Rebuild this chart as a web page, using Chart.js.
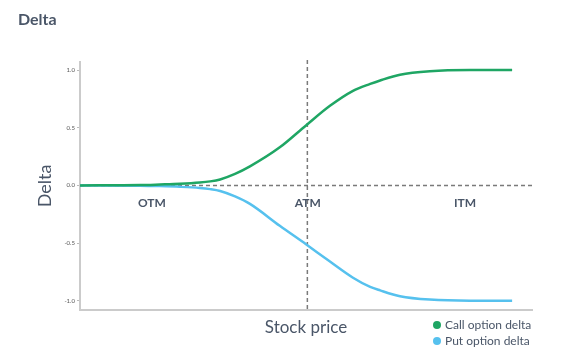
<!DOCTYPE html>
<html>
<head>
<meta charset="utf-8">
<script src="https://cdn.jsdelivr.net/npm/chart.js@4/dist/chart.umd.min.js"></script>
<style>
  html, body { margin: 0; padding: 0; background: #fff; }
  #wrap { width: 567px; height: 354px; }
</style>
</head>
<body>
<div id="wrap"><canvas id="deltaChart" width="567" height="354"></canvas></div>
<script>
// stock price (arbitrary units, 0..100) and delta values
const stockPrice = [0, 13.3, 17.7, 22.1, 26.5, 28.8, 31, 34.3, 37.6, 44.2, 50, 55.3, 60.4, 64.2, 66.4, 70.8, 77.4, 86.3, 95.6]
const callDelta = [0, 0.003, 0.008, 0.014, 0.025, 0.035, 0.052, 0.1, 0.165, 0.33, 0.52, 0.69, 0.82, 0.88, 0.91, 0.96, 0.99, 1.0, 1.0]
const putDelta = [0, -0.002, -0.006, -0.012, -0.022, -0.032, -0.048, -0.095, -0.16, -0.35, -0.51, -0.66, -0.80, -0.88, -0.91, -0.96, -0.99, -1.0, -1.0]
const yTicks = [-1, -0.5, 0, 0.5, 1]
const zones = ['OTM', 'ATM', 'ITM']
const zonePositions = [15.9, 50.4, 85.2]
const strike = 50.3

const textColor = '#4a5668'
const font = 'Lato, "Open Sans", sans-serif'

const toPoints = (ys) => ys.map((y, i) => ({ x: stockPrice[i], y: y }))

const extras = {
  id: 'extras',
  beforeDatasetsDraw(chart) {
    const { ctx, chartArea, scales } = chart
    const x0 = scales.x.getPixelForValue(strike)
    const y0 = scales.y.getPixelForValue(0)
    ctx.save()
    ctx.strokeStyle = '#7a7a7a'
    ctx.lineWidth = 1.5
    ctx.setLineDash([4, 3])
    ctx.beginPath()
    ctx.moveTo(chartArea.left, y0)
    ctx.lineTo(chartArea.right, y0)
    ctx.moveTo(x0, chartArea.top - 2)
    ctx.lineTo(x0, chartArea.bottom)
    ctx.stroke()
    ctx.restore()
  },
  afterDraw(chart) {
    const { ctx, scales } = chart
    ctx.save()
    // title
    ctx.fillStyle = textColor
    ctx.font = `bold 16px ${font}`
    ctx.textBaseline = 'middle'
    ctx.textAlign = 'left'
    ctx.fillText('Delta', 18, 20)

    // zone labels
    ctx.font = `bold 12px ${font}`
    ctx.textAlign = 'center'
    const zy = scales.y.getPixelForValue(-0.155)
    zones.forEach((z, i) => {
      ctx.fillText(z, scales.x.getPixelForValue(zonePositions[i]), zy)
    })

    // legend
    ctx.font = `12px ${font}`
    ctx.textAlign = 'left'
    chart.data.datasets.forEach((ds, i) => {
      const ly = 325 + i * 16
      ctx.fillStyle = ds.borderColor
      ctx.beginPath()
      ctx.arc(437, ly, 4, 0, Math.PI * 2)
      ctx.fill()
      ctx.fillStyle = textColor
      ctx.fillText(ds.label, 445, ly)
    })
    ctx.restore()
  }
}

new Chart(document.getElementById('deltaChart').getContext('2d'), {
  type: 'line',
  data: {
    datasets: [
      {
        label: 'Call option delta',
        data: toPoints(callDelta),
        borderColor: '#1fa664',
        borderWidth: 2.5,
        pointRadius: 0,
        cubicInterpolationMode: 'monotone'
      },
      {
        label: 'Put option delta',
        data: toPoints(putDelta),
        borderColor: '#56c1ee',
        borderWidth: 2.5,
        pointRadius: 0,
        cubicInterpolationMode: 'monotone'
      }
    ]
  },
  options: {
    responsive: false,
    animation: false,
    layout: {
      padding: { left: 0, top: 62, right: 35, bottom: 0 }
    },
    plugins: {
      legend: { display: false },
      tooltip: { enabled: false },
      title: { display: false }
    },
    scales: {
      x: {
        type: 'linear',
        min: 0,
        max: 100,
        ticks: { display: false },
        grid: { display: false },
        border: { display: true, color: '#cbcbcb', width: 2 },
        title: {
          display: true,
          text: 'Stock price',
          color: textColor,
          font: { family: font, size: 17 },
          padding: { top: 16, bottom: 16 }
        },
        afterFit(scale) { scale.height = 44 }
      },
      y: {
        type: 'linear',
        min: -1.08,
        max: 1.07,
        afterBuildTicks(scale) {
          scale.ticks = yTicks.map(v => ({ value: v }))
        },
        ticks: {
          color: '#555',
          font: { family: font, size: 6 },
          padding: 2,
          callback: (v) => v.toFixed(1)
        },
        grid: { drawOnChartArea: false, tickLength: 3, color: '#bbb' },
        border: { display: true, color: '#cbcbcb', width: 2 },
        title: {
          display: true,
          text: 'Delta',
          color: textColor,
          font: { family: font, size: 18 },
          padding: { top: 34, bottom: 34 }
        },
        afterFit(scale) { scale.width = 80 }
      }
    }
  },
  plugins: [extras]
})
</script>
</body>
</html>
